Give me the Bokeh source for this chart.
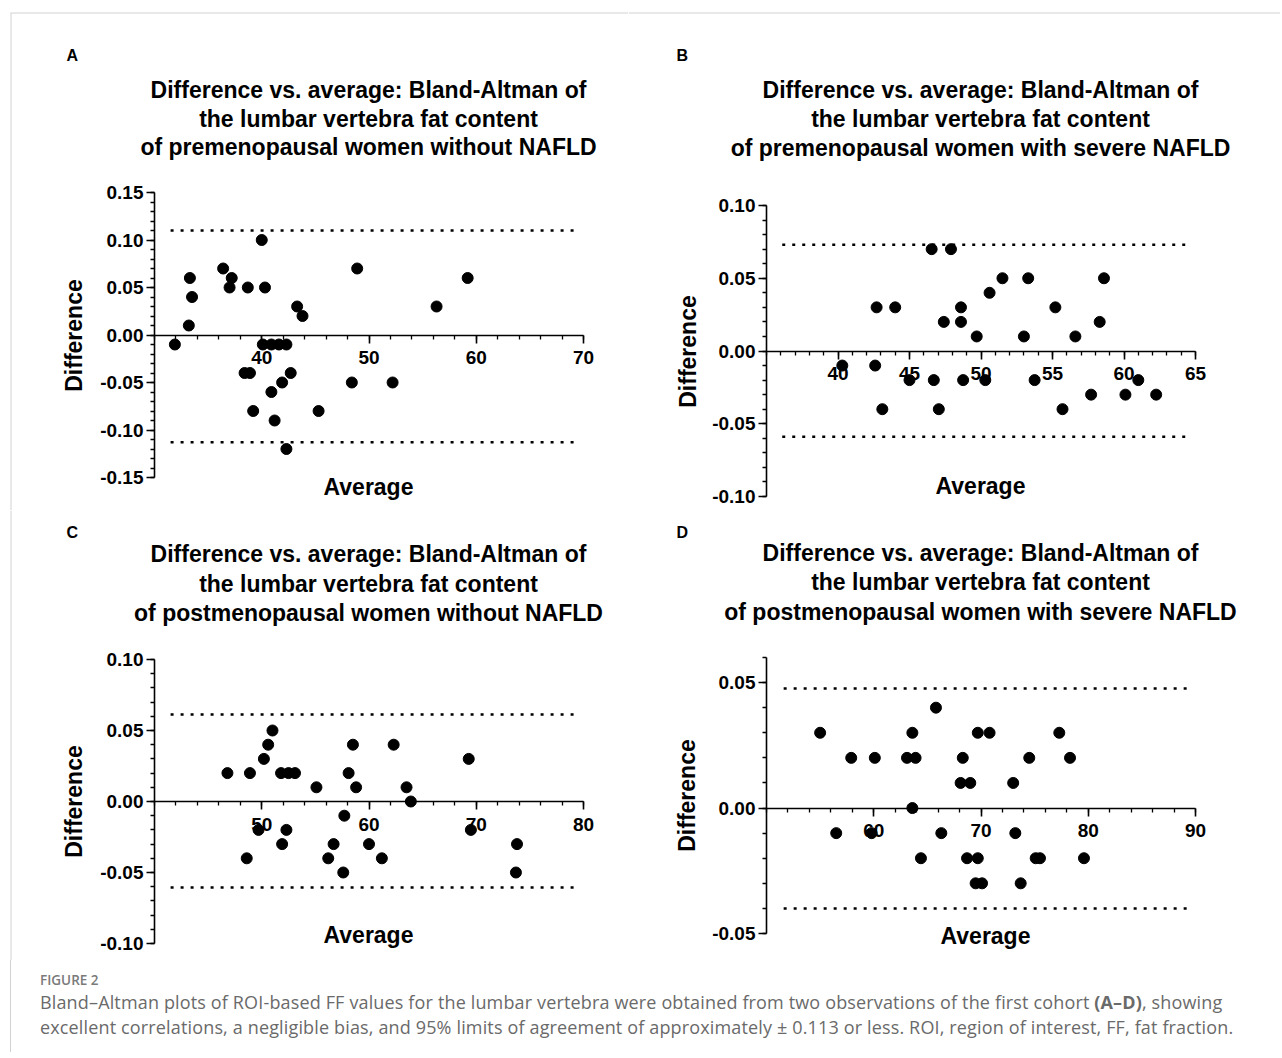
import math
from bokeh.plotting import figure
from bokeh.models import (LinearAxis, FixedTicker, NumeralTickFormatter, Label,
                          Div, Range1d, ColumnDataSource)
from bokeh.layouts import column, row
from bokeh.embed import file_html
from bokeh.resources import INLINE

# ---------------- data ----------------
# Panel A: premenopausal women without NAFLD
a_avg = [31.9, 33.2, 33.3, 33.5, 36.4, 37.0, 37.2, 38.4, 38.9, 38.7, 39.2, 40.0, 40.1, 40.3, 40.9,
         40.9, 41.2, 41.6, 41.9, 42.3, 42.3, 42.7, 43.3, 43.8, 45.3, 48.4, 48.9, 52.2, 56.3, 59.2]
a_diff = [-0.01, 0.01, 0.06, 0.04, 0.07, 0.05, 0.06, -0.04, -0.04, 0.05, -0.08, 0.10, -0.01, 0.05, -0.01,
          -0.06, -0.09, -0.01, -0.05, -0.01, -0.12, -0.04, 0.03, 0.02, -0.08, -0.05, 0.07, -0.05, 0.03, 0.06]
a_loa = [0.110, -0.113]
a_loa_x = [31.5, 69.4]

# Panel B: premenopausal women with severe NAFLD
b_avg = [40.3, 42.6, 42.7, 43.1, 44.0, 45.0, 46.55, 46.7, 47.05, 47.4, 47.9, 48.6, 48.6, 48.75, 49.7,
         50.3, 50.6, 51.5, 53.0, 53.3, 53.75, 55.2, 55.7, 56.6, 57.7, 58.3, 58.6, 60.1, 61.0, 62.25]
b_diff = [-0.01, -0.01, 0.03, -0.04, 0.03, -0.02, 0.07, -0.02, -0.04, 0.02, 0.07, 0.03, 0.02, -0.02, 0.01,
          -0.02, 0.04, 0.05, 0.01, 0.05, -0.02, 0.03, -0.04, 0.01, -0.03, 0.02, 0.05, -0.03, -0.02, -0.03]
b_loa = [0.073, -0.059]
b_loa_x = [36.1, 64.4]

# Panel C: postmenopausal women without NAFLD
c_avg = [46.8, 48.6, 48.9, 49.7, 50.2, 50.6, 51.0, 51.8, 51.9, 52.3, 52.5, 53.1, 55.1, 56.2, 56.7,
         57.6, 57.7, 58.1, 58.5, 58.8, 60.0, 61.2, 62.3, 63.5, 63.9, 69.3, 69.5, 73.8, 73.7]
c_diff = [0.02, -0.04, 0.02, -0.02, 0.03, 0.04, 0.05, 0.02, -0.03, -0.02, 0.02, 0.02, 0.01, -0.04, -0.03,
          -0.05, -0.01, 0.02, 0.04, 0.01, -0.03, -0.04, 0.04, 0.01, 0.00, 0.03, -0.02, -0.03, -0.05]
c_loa = [0.0613, -0.0606]
c_loa_x = [41.5, 79.4]

# Panel D: postmenopausal women with severe NAFLD
d_avg = [55.0, 56.5, 57.9, 59.8, 60.1, 63.1, 63.6, 63.6, 63.9, 64.4, 65.8, 66.3, 68.1, 68.3, 68.7,
         69.0, 69.5, 69.7, 69.7, 70.1, 70.8, 73.0, 73.2, 73.7, 74.5, 75.1, 75.5, 77.3, 78.3, 79.6]
d_diff = [0.03, -0.01, 0.02, -0.01, 0.02, 0.02, 0.03, 0.00, 0.02, -0.02, 0.04, -0.01, 0.01, 0.02, -0.02,
          0.01, -0.03, 0.03, -0.02, -0.03, 0.03, 0.01, -0.01, -0.03, 0.02, -0.02, -0.02, 0.03, 0.02, -0.02]
d_loa = [0.0476, -0.040]
d_loa_x = [51.6, 89.4]

# axes limits and ticks
a_xlim, a_ylim = (30, 70), (-0.15, 0.15)
a_xticks, a_xminor = [40, 50, 60, 70], list(range(30, 71, 2))
a_yticks = [-0.15, -0.10, -0.05, 0.00, 0.05, 0.10, 0.15]
b_xlim, b_ylim = (35, 65), (-0.10, 0.10)
b_xticks, b_xminor = [40, 45, 50, 55, 60, 65], list(range(35, 66, 1))
b_yticks = [-0.10, -0.05, 0.00, 0.05, 0.10]
c_xlim, c_ylim = (40, 80), (-0.10, 0.10)
c_xticks, c_xminor = [50, 60, 70, 80], list(range(40, 81, 2))
c_yticks = [-0.10, -0.05, 0.00, 0.05, 0.10]
d_xlim, d_ylim = (50, 90), (-0.05, 0.06)
d_xticks, d_xminor = [60, 70, 80, 90], list(range(50, 91, 2))
d_yticks = [-0.05, 0.00, 0.05]

title_common = ["Difference vs. average: Bland-Altman of", "the lumbar vertebra fat content"]
a_title = title_common + ["of premenopausal women without NAFLD"]
b_title = title_common + ["of premenopausal women with severe NAFLD"]
c_title = title_common + ["of postmenopausal women without NAFLD"]
d_title = title_common + ["of postmenopausal women with severe NAFLD"]

FONT = "Liberation Sans"
FRAME_COLOR = "#d2d2d2"


def make_panel(letter, titles, avg, diff, loa, loa_x, xlim, ylim, xticks, xminor, yticks,
               fig, box, letter_pos, title_x, title_mid, avg_pos, diff_pos, border_top=False,
               border_left=False):
    fx, fy, fw, fh = fig
    left, right, top, bottom = box
    sx = (right - left) / (xlim[1] - xlim[0])
    sy = (bottom - top) / (ylim[1] - ylim[0])
    x0 = xlim[0] - (left - fx) / sx
    x1 = x0 + fw / sx
    y1 = ylim[1] + (top - fy) / sy
    y0 = y1 - fh / sy

    def px(X):
        return x0 + (X - fx) / sx

    def py(Y):
        return y1 - (Y - fy) / sy

    p = figure(width=fw, height=fh, x_range=Range1d(x0, x1), y_range=Range1d(y0, y1),
               output_backend="svg", toolbar_location=None, x_axis_location=None,
               y_axis_location=None, min_border=0, title=None)
    p.outline_line_color = None
    p.background_fill_color = "white"
    p.border_fill_color = "white"
    p.grid.visible = False

    # page frame (thin grey border of the figure page)
    if border_top:
        p.segment(x0=[px(max(10.0, fx))], y0=[py(12.5)], x1=[px(fx + fw)], y1=[py(12.5)],
                  line_color=FRAME_COLOR, line_width=1)
    if border_left:
        p.segment(x0=[px(10.5)], y0=[py(max(12.5, fy))], x1=[px(10.5)], y1=[py(fy + fh)],
                  line_color=FRAME_COLOR, line_width=1)

    yminor = [round(ylim[0] + 0.01 * i, 2) for i in range(int(round((ylim[1] - ylim[0]) / 0.01)) + 1)]

    yax = LinearAxis(fixed_location=xlim[0], bounds=ylim,
                     ticker=FixedTicker(ticks=yticks, minor_ticks=yminor),
                     formatter=NumeralTickFormatter(format="0.00"))
    xax = LinearAxis(fixed_location=0, bounds=xlim,
                     ticker=FixedTicker(ticks=xticks, minor_ticks=xminor))
    for ax in (yax, xax):
        ax.axis_line_width = 1.6
        ax.axis_line_color = "black"
        ax.major_tick_line_width = 1.6
        ax.minor_tick_line_width = 1.3
        ax.major_tick_line_color = "black"
        ax.minor_tick_line_color = "black"
        ax.major_tick_in = 0
        ax.major_tick_out = 8
        ax.minor_tick_in = 0
        ax.minor_tick_out = 4
        ax.major_label_text_font = FONT
        ax.major_label_text_font_style = "bold"
        ax.major_label_text_font_size = "19px"
        ax.major_label_text_color = "black"
    yax.major_label_standoff = 3
    xax.major_label_standoff = 8
    p.add_layout(yax, "left")
    p.add_layout(xax, "below")

    src = ColumnDataSource(dict(x0=[loa_x[0]] * len(loa), x1=[loa_x[1]] * len(loa), y=loa))
    p.segment(x0="x0", y0="y", x1="x1", y1="y", source=src, line_color="black",
              line_width=2.5, line_dash="3 7")
    p.scatter(x=avg, y=diff, size=11, color="black", marker="circle")

    def lab(x, y, text, size, align="center", angle=0.0):
        p.add_layout(Label(x=px(x), y=py(y), text=text, text_font=FONT, text_font_style="bold",
                           text_font_size=size, text_align=align, text_baseline="middle",
                           angle=angle, text_color="black"))

    lab(letter_pos[0], letter_pos[1], letter, "16px", align="left")
    for t, ym in zip(titles, title_mid):
        lab(title_x, ym, t, "23px")
    lab(avg_pos[0], avg_pos[1], "Average", "23px")
    lab(diff_pos[0], diff_pos[1], "Difference", "23px", angle=math.pi / 2)
    return p


pA = make_panel("A", a_title, a_avg, a_diff, a_loa, a_loa_x, a_xlim, a_ylim, a_xticks, a_xminor, a_yticks,
                fig=(0, 0, 628, 510), box=(154, 583, 192, 477), letter_pos=(66, 55), title_x=368,
                title_mid=(89.5, 118, 146.5), avg_pos=(368, 486), diff_pos=(73, 335),
                border_top=True, border_left=True)
pB = make_panel("B", b_title, b_avg, b_diff, b_loa, b_loa_x, b_xlim, b_ylim, b_xticks, b_xminor, b_yticks,
                fig=(628, 0, 652, 510), box=(766, 1195, 205, 496), letter_pos=(676, 55), title_x=980,
                title_mid=(89.5, 118.5, 147), avg_pos=(980, 485), diff_pos=(687, 351),
                border_top=True)
pC = make_panel("C", c_title, c_avg, c_diff, c_loa, c_loa_x, c_xlim, c_ylim, c_xticks, c_xminor, c_yticks,
                fig=(0, 510, 628, 450), box=(154, 583, 659, 943), letter_pos=(66, 532), title_x=368,
                title_mid=(553.5, 583, 612), avg_pos=(368, 934), diff_pos=(73, 801),
                border_left=True)
pD = make_panel("D", d_title, d_avg, d_diff, d_loa, d_loa_x, d_xlim, d_ylim, d_xticks, d_xminor, d_yticks,
                fig=(628, 510, 652, 450), box=(766, 1195, 657, 933), letter_pos=(676, 532), title_x=980,
                title_mid=(552.5, 581.5, 611), avg_pos=(985, 935), diff_pos=(686, 795))

caption_label = "FIGURE 2"
caption_text = ("Bland–Altman plots of ROI-based FF values for the lumbar vertebra were obtained from two "
                "observations of the first cohort <b>(A–D)</b>, showing<br>excellent correlations, a negligible "
                "bias, and 95% limits of agreement of approximately ± 0.113 or less. ROI, region of interest, "
                "FF, fat fraction.")
caption = Div(
    text=(f'<div style="font-family:\'Open Sans\', sans-serif; color:#6a6a6a; padding-left:29px; '
          f'border-left:1px solid {FRAME_COLOR}; margin-left:10px; height:92px; white-space:nowrap;">'
          f'<div style="font-size:13.5px; font-weight:600; color:#7a7a7a; line-height:20px; padding-top:10px;">{caption_label}</div>'
          f'<div style="font-size:18px; letter-spacing:0.15px; line-height:25px; padding-top:0px;">{caption_text}</div></div>'),
    width=1270, height=92, margin=0)

layout = column(row(pA, pB), row(pC, pD), caption)

with open("out.html", "w") as f:
    f.write(file_html(layout, INLINE))
